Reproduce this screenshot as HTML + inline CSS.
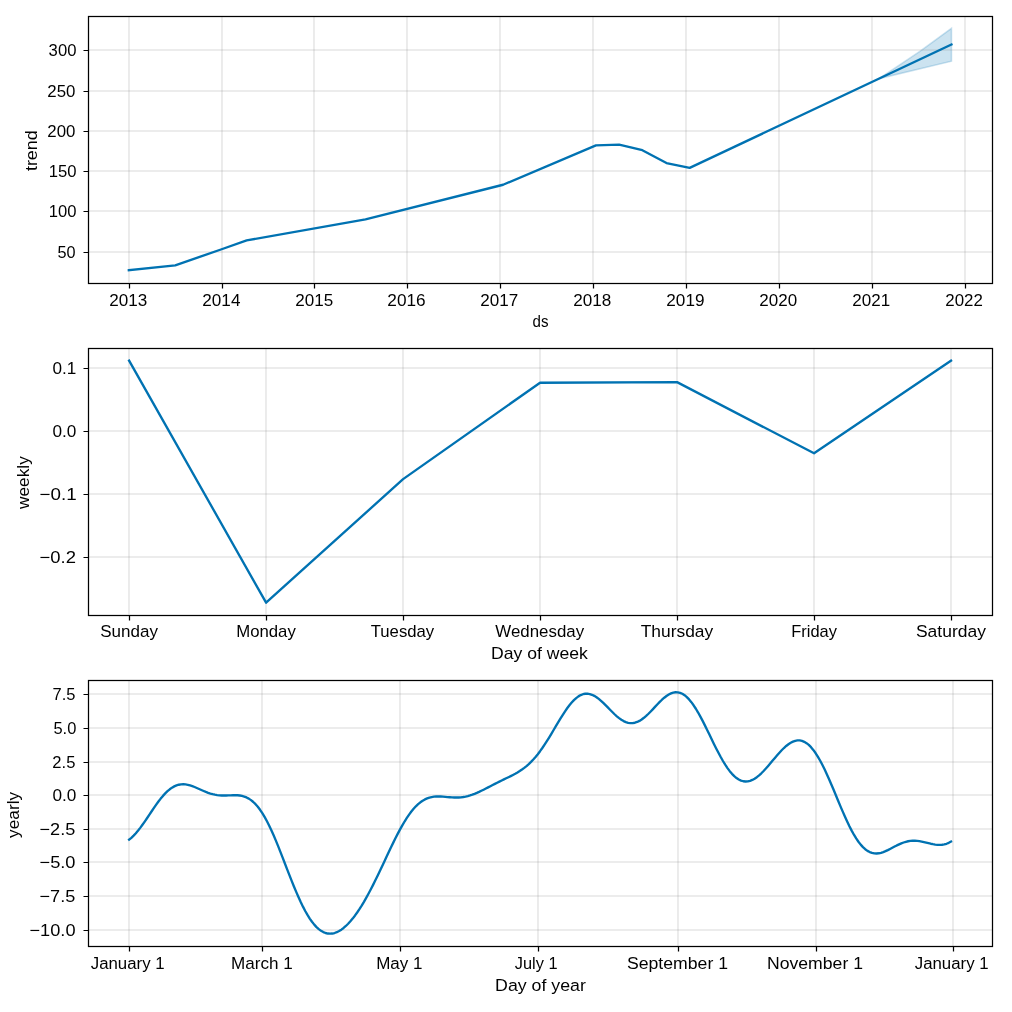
<!DOCTYPE html>
<html lang="en"><head><meta charset="utf-8"><title>Forecast components</title>
<style>html,body{margin:0;padding:0;background:#fff;}body{width:1012px;height:1012px;overflow:hidden;font-family:"Liberation Sans",sans-serif;}svg{display:block;}text{white-space:pre;}</style>
</head><body>
<svg width="1012" height="1012" viewBox="0 0 1012 1012">
<rect width="1012" height="1012" fill="#fff"/>
<g>
<path d="M878.99 78.63 L920.18 51.17 L951.46 28.3 L951.46 61.15 L920.18 68.64 L878.99 78.63Z" fill="#0072B2" fill-opacity="0.2" stroke="#0072B2" stroke-opacity="0.2" stroke-width="1.562" stroke-linejoin="miter"/>
<path d="M129 16.2 V282.6 M222 16.2 V282.6 M314 16.2 V282.6 M407 16.2 V282.6 M500 16.2 V282.6 M593 16.2 V282.6 M686 16.2 V282.6 M779 16.2 V282.6 M872 16.2 V282.6 M965 16.2 V282.6" fill="none" stroke="#808080" stroke-opacity="0.2" stroke-width="1.562"/>
<path d="M88 252 H992.12 M88 211 H992.12 M88 171 H992.12 M88 131 H992.12 M88 91 H992.12 M88 50 H992.12" fill="none" stroke="#808080" stroke-opacity="0.2" stroke-width="1.562"/>
<path d="M129.5 283 V288.5 M222.5 283 V288.5 M314.5 283 V288.5 M407.5 283 V288.5 M500.5 283 V288.5 M593.5 283 V288.5 M686.5 283 V288.5 M779.5 283 V288.5 M872.5 283 V288.5 M965.5 283 V288.5 M88.5 252.5 H83.5 M88.5 211.5 H83.5 M88.5 171.5 H83.5 M88.5 131.5 H83.5 M88.5 91.5 H83.5 M88.5 50.5 H83.5" fill="none" stroke="#000" stroke-width="1.249"/>
<path d="M128.8 270.18 L175.21 265.35 L221.62 249.24 L246.68 240.39 L365.49 219.37 L503.12 184.75 L595.94 145.37 L619.14 144.57 L642.35 150.2 L666.48 163.09 L689.68 167.92 L951.46 44.44" fill="none" stroke="#0072B2" stroke-width="2.343" stroke-linejoin="round" stroke-linecap="square"/>
<rect x="88.5" y="16.5" width="904" height="267" fill="none" stroke="#000" stroke-width="1.249"/>
</g>
<g>
<path d="M129 348.15 V614.55 M266 348.15 V614.55 M403 348.15 V614.55 M540 348.15 V614.55 M677 348.15 V614.55 M814 348.15 V614.55 M951 348.15 V614.55" fill="none" stroke="#808080" stroke-opacity="0.2" stroke-width="1.562"/>
<path d="M88 557 H992.12 M88 494 H992.12 M88 431 H992.12 M88 368 H992.12" fill="none" stroke="#808080" stroke-opacity="0.2" stroke-width="1.562"/>
<path d="M129.5 615 V620.5 M266.5 615 V620.5 M403.5 615 V620.5 M540.5 615 V620.5 M677.5 615 V620.5 M814.5 615 V620.5 M951.5 615 V620.5 M88.5 557.5 H83.5 M88.5 494.5 H83.5 M88.5 431.5 H83.5 M88.5 368.5 H83.5" fill="none" stroke="#000" stroke-width="1.249"/>
<path d="M129.1 360.68 L266.09 602.67 L403.08 479.16 L540.06 382.73 L677.05 382.1 L814.04 453.32 L951.03 360.68" fill="none" stroke="#0072B2" stroke-width="2.343" stroke-linejoin="round" stroke-linecap="square"/>
<rect x="88.5" y="348.5" width="904" height="267" fill="none" stroke="#000" stroke-width="1.249"/>
</g>
<g>
<path d="M129 680 V946.4 M262 680 V946.4 M400 680 V946.4 M538 680 V946.4 M678 680 V946.4 M816 680 V946.4 M953 680 V946.4" fill="none" stroke="#808080" stroke-opacity="0.2" stroke-width="1.562"/>
<path d="M88 930 H992.12 M88 896 H992.12 M88 862 H992.12 M88 829 H992.12 M88 795 H992.12 M88 762 H992.12 M88 728 H992.12 M88 694 H992.12" fill="none" stroke="#808080" stroke-opacity="0.2" stroke-width="1.562"/>
<path d="M129.5 946 V951.5 M262.5 946 V951.5 M400.5 946 V951.5 M538.5 946 V951.5 M678.5 946 V951.5 M816.5 946 V951.5 M953.5 946 V951.5 M88.5 930.5 H83.5 M88.5 896.5 H83.5 M88.5 862.5 H83.5 M88.5 829.5 H83.5 M88.5 795.5 H83.5 M88.5 762.5 H83.5 M88.5 728.5 H83.5 M88.5 694.5 H83.5" fill="none" stroke="#000" stroke-width="1.249"/>
<path d="M129.1 839.69 L131.36 837.81 L133.62 835.64 L135.87 833.2 L138.13 830.52 L140.39 827.62 L142.65 824.54 L144.91 821.32 L147.16 818.01 L149.42 814.64 L151.68 811.26 L153.94 807.92 L156.2 804.68 L158.45 801.56 L160.71 798.62 L162.97 795.89 L165.23 793.41 L167.49 791.19 L169.74 789.27 L172 787.66 L174.26 786.37 L176.52 785.39 L178.78 784.72 L181.03 784.35 L183.29 784.26 L185.55 784.43 L187.81 784.82 L190.07 785.41 L192.33 786.16 L194.58 787.03 L196.84 787.99 L199.1 788.99 L201.36 790.01 L203.62 791 L205.87 791.93 L208.13 792.79 L210.39 793.54 L212.65 794.18 L214.91 794.69 L217.16 795.07 L219.42 795.33 L221.68 795.47 L223.94 795.52 L226.2 795.49 L228.45 795.4 L230.71 795.31 L232.97 795.23 L235.23 795.21 L237.49 795.29 L239.74 795.52 L242 795.92 L244.26 796.55 L246.52 797.43 L248.78 798.61 L251.03 800.12 L253.29 801.97 L255.55 804.19 L257.81 806.79 L260.07 809.78 L262.32 813.16 L264.58 816.91 L266.84 821.03 L269.1 825.5 L271.36 830.28 L273.61 835.34 L275.87 840.65 L278.13 846.17 L280.39 851.84 L282.65 857.63 L284.9 863.48 L287.16 869.33 L289.42 875.15 L291.68 880.88 L293.94 886.47 L296.2 891.89 L298.45 897.08 L300.71 902.01 L302.97 906.65 L305.23 910.97 L307.49 914.95 L309.74 918.56 L312 921.79 L314.26 924.64 L316.52 927.09 L318.78 929.15 L321.03 930.82 L323.29 932.09 L325.55 932.99 L327.81 933.52 L330.07 933.7 L332.32 933.52 L334.58 933.02 L336.84 932.2 L339.1 931.07 L341.36 929.65 L343.61 927.96 L345.87 925.99 L348.13 923.77 L350.39 921.31 L352.65 918.6 L354.9 915.67 L357.16 912.52 L359.42 909.15 L361.68 905.59 L363.94 901.83 L366.19 897.89 L368.45 893.78 L370.71 889.52 L372.97 885.12 L375.23 880.59 L377.48 875.95 L379.74 871.24 L382 866.46 L384.26 861.65 L386.52 856.83 L388.77 852.04 L391.03 847.29 L393.29 842.62 L395.55 838.07 L397.81 833.65 L400.07 829.4 L402.32 825.35 L404.58 821.52 L406.84 817.93 L409.1 814.6 L411.36 811.55 L413.61 808.79 L415.87 806.33 L418.13 804.17 L420.39 802.3 L422.65 800.72 L424.9 799.43 L427.16 798.4 L429.42 797.62 L431.68 797.06 L433.94 796.69 L436.19 796.5 L438.45 796.45 L440.71 796.51 L442.97 796.65 L445.23 796.84 L447.48 797.05 L449.74 797.25 L452 797.41 L454.26 797.52 L456.52 797.54 L458.77 797.48 L461.03 797.3 L463.29 797.02 L465.55 796.61 L467.81 796.09 L470.06 795.45 L472.32 794.7 L474.58 793.85 L476.84 792.91 L479.1 791.89 L481.35 790.81 L483.61 789.69 L485.87 788.53 L488.13 787.36 L490.39 786.18 L492.64 785.01 L494.9 783.84 L497.16 782.7 L499.42 781.58 L501.68 780.48 L503.93 779.39 L506.19 778.3 L508.45 777.21 L510.71 776.09 L512.97 774.94 L515.23 773.73 L517.48 772.45 L519.74 771.06 L522 769.55 L524.26 767.9 L526.52 766.09 L528.77 764.1 L531.03 761.93 L533.29 759.55 L535.55 756.97 L537.81 754.18 L540.06 751.19 L542.32 748.01 L544.58 744.66 L546.84 741.15 L549.1 737.51 L551.35 733.78 L553.61 729.98 L555.87 726.16 L558.13 722.37 L560.39 718.64 L562.64 715.02 L564.9 711.55 L567.16 708.29 L569.42 705.27 L571.68 702.54 L573.93 700.13 L576.19 698.07 L578.45 696.39 L580.71 695.1 L582.97 694.22 L585.22 693.76 L587.48 693.7 L589.74 694.04 L592 694.77 L594.26 695.84 L596.51 697.23 L598.77 698.91 L601.03 700.82 L603.29 702.91 L605.55 705.14 L607.8 707.44 L610.06 709.77 L612.32 712.05 L614.58 714.25 L616.84 716.3 L619.1 718.15 L621.35 719.77 L623.61 721.1 L625.87 722.13 L628.13 722.82 L630.39 723.15 L632.64 723.12 L634.9 722.73 L637.16 721.98 L639.42 720.89 L641.68 719.49 L643.93 717.8 L646.19 715.87 L648.45 713.73 L650.71 711.45 L652.97 709.07 L655.22 706.65 L657.48 704.25 L659.74 701.92 L662 699.73 L664.26 697.72 L666.51 695.96 L668.77 694.49 L671.03 693.35 L673.29 692.59 L675.55 692.23 L677.8 692.3 L680.06 692.82 L682.32 693.79 L684.58 695.22 L686.84 697.1 L689.09 699.42 L691.35 702.15 L693.61 705.28 L695.87 708.75 L698.13 712.55 L700.38 716.61 L702.64 720.9 L704.9 725.37 L707.16 729.95 L709.42 734.61 L711.67 739.28 L713.93 743.9 L716.19 748.44 L718.45 752.83 L720.71 757.04 L722.97 761.01 L725.22 764.7 L727.48 768.09 L729.74 771.14 L732 773.83 L734.26 776.13 L736.51 778.03 L738.77 779.51 L741.03 780.59 L743.29 781.25 L745.55 781.5 L747.8 781.35 L750.06 780.82 L752.32 779.93 L754.58 778.7 L756.84 777.16 L759.09 775.34 L761.35 773.27 L763.61 771 L765.87 768.55 L768.13 765.98 L770.38 763.32 L772.64 760.61 L774.9 757.91 L777.16 755.26 L779.42 752.69 L781.67 750.26 L783.93 748.01 L786.19 745.98 L788.45 744.21 L790.71 742.74 L792.96 741.59 L795.22 740.81 L797.48 740.42 L799.74 740.44 L802 740.89 L804.25 741.79 L806.51 743.14 L808.77 744.94 L811.03 747.2 L813.29 749.9 L815.54 753.02 L817.8 756.56 L820.06 760.47 L822.32 764.73 L824.58 769.31 L826.83 774.15 L829.09 779.22 L831.35 784.46 L833.61 789.82 L835.87 795.25 L838.13 800.7 L840.38 806.1 L842.64 811.4 L844.9 816.56 L847.16 821.51 L849.42 826.21 L851.67 830.62 L853.93 834.7 L856.19 838.41 L858.45 841.74 L860.71 844.65 L862.96 847.15 L865.22 849.21 L867.48 850.86 L869.74 852.08 L872 852.91 L874.25 853.37 L876.51 853.47 L878.77 853.27 L881.03 852.78 L883.29 852.07 L885.54 851.17 L887.8 850.12 L890.06 848.98 L892.32 847.79 L894.58 846.59 L896.83 845.43 L899.09 844.34 L901.35 843.35 L903.61 842.5 L905.87 841.79 L908.12 841.26 L910.38 840.9 L912.64 840.72 L914.9 840.71 L917.16 840.86 L919.41 841.16 L921.67 841.56 L923.93 842.06 L926.19 842.61 L928.45 843.18 L930.7 843.73 L932.96 844.21 L935.22 844.6 L937.48 844.85 L939.74 844.92 L942 844.78 L944.25 844.4 L946.51 843.76 L948.77 842.84 L951.03 841.63" fill="none" stroke="#0072B2" stroke-width="2.343" stroke-linejoin="round" stroke-linecap="square"/>
<rect x="88.5" y="680.5" width="904" height="266" fill="none" stroke="#000" stroke-width="1.249"/>
</g>
<g font-family="'Liberation Sans', sans-serif" font-size="15.617" fill="#000" opacity="0.999">
<text transform="matrix(1.0928 0 0 1.0680 109.32 305.74)">2013</text>
<text transform="matrix(1.0966 0 0 1.0691 202.32 305.74)">2014</text>
<text transform="matrix(1.0920 0 0 1.0691 295.32 305.74)">2015</text>
<text transform="matrix(1.1033 0 0 1.0680 387.31 305.74)">2016</text>
<text transform="matrix(1.0928 0 0 1.0691 480.32 305.74)">2017</text>
<text transform="matrix(1.0958 0 0 1.0680 573.32 305.74)">2018</text>
<text transform="matrix(1.1005 0 0 1.0680 666.32 305.74)">2019</text>
<text transform="matrix(1.0883 0 0 1.0659 759.32 305.74)">2020</text>
<text transform="matrix(1.0900 0 0 1.0680 852.32 305.74)">2021</text>
<text transform="matrix(1.0810 0 0 1.0659 945.33 305.74)">2022</text>
<text transform="matrix(1.0412 0 0 1.0677 57.40 257.72)">50</text>
<text transform="matrix(1.0649 0 0 1.0691 48.78 216.74)">100</text>
<text transform="matrix(1.0678 0 0 1.0691 48.77 176.74)">150</text>
<text transform="matrix(1.0790 0 0 1.0659 47.33 136.74)">200</text>
<text transform="matrix(1.0788 0 0 1.0691 47.33 96.74)">250</text>
<text transform="matrix(1.0668 0 0 1.0645 48.62 55.71)">300</text>
<text transform="matrix(0.9666 0 0 1.0225 532.53 326.74)">ds</text>
<text transform="matrix(0 -1.1433 1.0235 0 36.74 171.06)">trend</text>
<text transform="matrix(1.0903 0 0 1.0067 100.18 636.55)">Sunday</text>
<text transform="matrix(1.0738 0 0 1.0072 236.19 636.55)">Monday</text>
<text transform="matrix(1.0711 0 0 1.0077 370.74 636.56)">Tuesday</text>
<text transform="matrix(1.0803 0 0 1.0077 495.36 636.56)">Wednesday</text>
<text transform="matrix(1.1137 0 0 1.0077 640.73 636.56)">Thursday</text>
<text transform="matrix(1.0534 0 0 1.0067 791.21 636.55)">Friday</text>
<text transform="matrix(1.1197 0 0 1.0067 915.97 636.55)">Saturday</text>
<text transform="matrix(1.1836 0 0 1.0652 39.49 562.74)">−0.2</text>
<text transform="matrix(1.2048 0 0 1.0680 39.48 499.74)">−0.1</text>
<text transform="matrix(1.1029 0 0 1.0663 52.48 436.74)">0.0</text>
<text transform="matrix(1.0988 0 0 1.0687 52.48 373.74)">0.1</text>
<text transform="matrix(1.1289 0 0 1.0077 490.96 658.56)">Day of week</text>
<text transform="matrix(0 -1.1068 1.0046 0 28.53 509.01)">weekly</text>
<text transform="matrix(1.0772 0 0 1.0381 90.75 969.10)">January 1</text>
<text transform="matrix(1.0929 0 0 1.0245 231.04 968.75)">March 1</text>
<text transform="matrix(1.0880 0 0 1.0381 376.17 969.10)">May 1</text>
<text transform="matrix(1.0487 0 0 1.0062 514.76 968.54)">July 1</text>
<text transform="matrix(1.1301 0 0 1.0077 626.95 968.56)">September 1</text>
<text transform="matrix(1.1285 0 0 1.0245 766.97 968.75)">November 1</text>
<text transform="matrix(1.0772 0 0 1.0381 914.75 969.10)">January 1</text>
<text transform="matrix(1.1651 0 0 1.0691 29.50 935.74)">−10.0</text>
<text transform="matrix(1.1611 0 0 1.0691 39.51 901.74)">−7.5</text>
<text transform="matrix(1.1691 0 0 1.0691 39.50 867.74)">−5.0</text>
<text transform="matrix(1.1611 0 0 1.0691 39.51 834.74)">−2.5</text>
<text transform="matrix(1.1029 0 0 1.0663 52.48 800.74)">0.0</text>
<text transform="matrix(1.0634 0 0 1.0691 52.34 767.74)">2.5</text>
<text transform="matrix(1.0552 0 0 1.0691 53.39 733.74)">5.0</text>
<text transform="matrix(1.0572 0 0 1.0691 52.47 699.74)">7.5</text>
<text transform="matrix(1.1370 0 0 1.0077 495.11 990.56)">Day of year</text>
<text transform="matrix(0 -1.1114 1.0064 0 18.56 838.00)">yearly</text>
</g></svg>
</body></html>
